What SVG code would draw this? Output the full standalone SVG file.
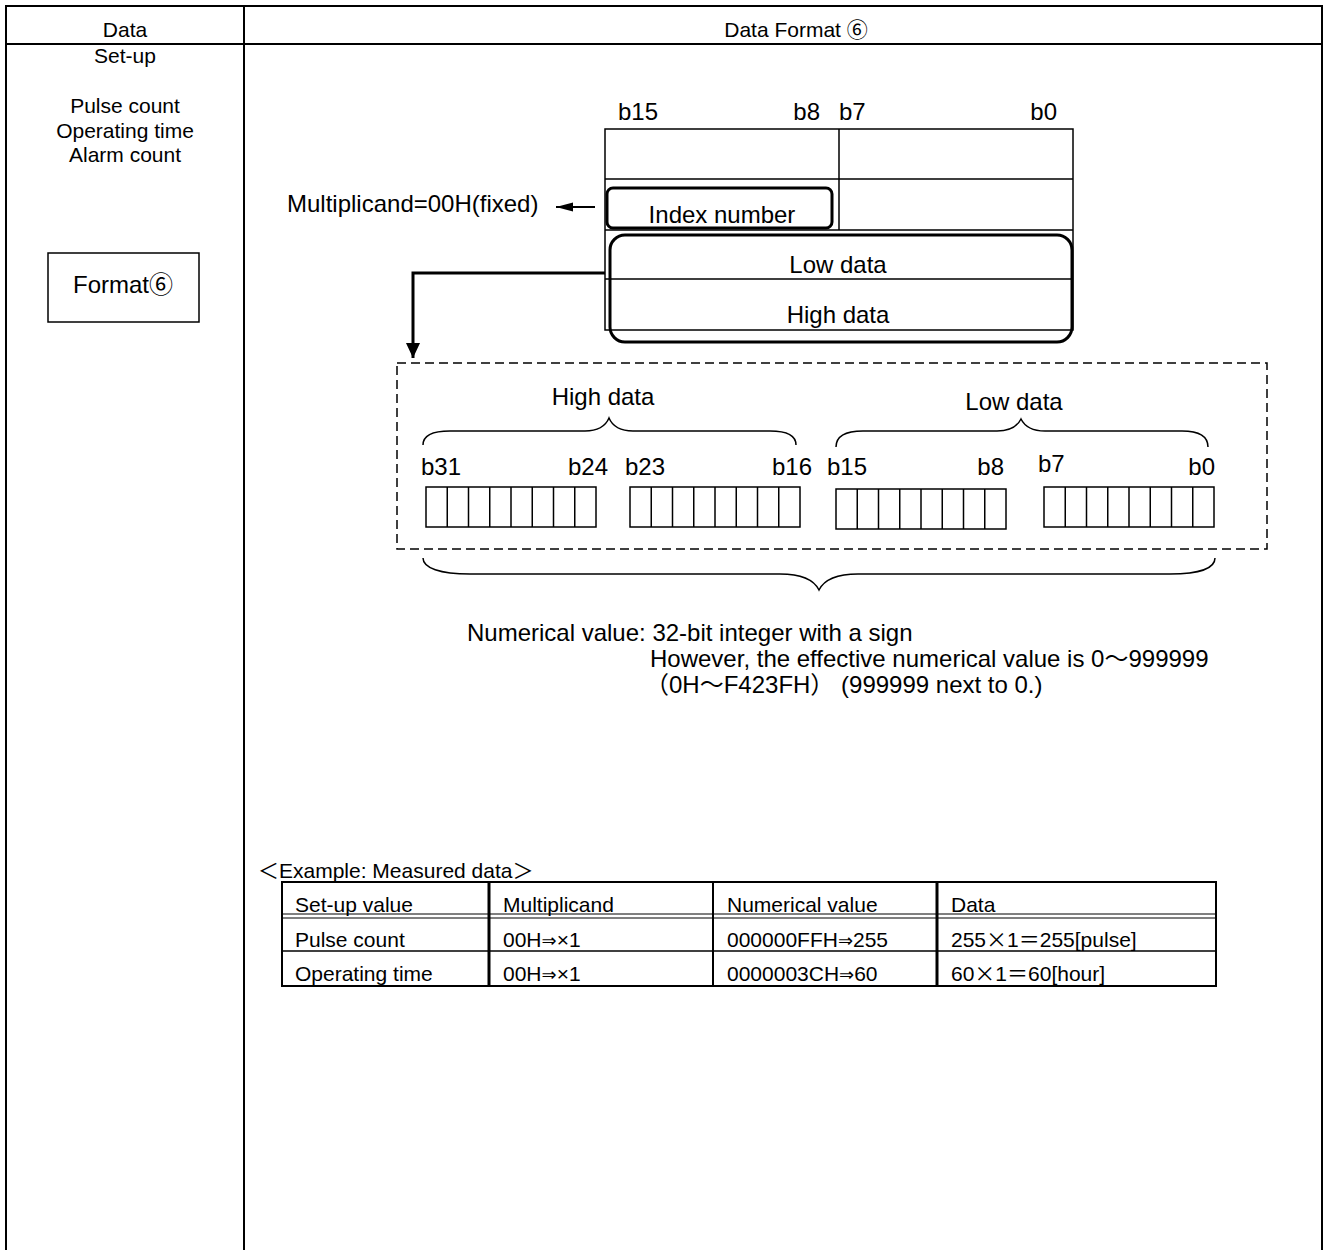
<svg xmlns="http://www.w3.org/2000/svg" width="1330" height="1250" viewBox="0 0 1330 1250">
<style>
text{font-family:'Liberation Sans',Arial,'Noto Sans CJK JP',sans-serif;fill:#000}
.f21{font-size:21px}
.f24{font-size:24px}
.c{text-anchor:middle}
.e{text-anchor:end}
.cjk{font-family:'Noto Sans CJK JP',sans-serif}
.dv{font-family:'DejaVu Sans',sans-serif;font-size:18px}
.frame{fill:none;stroke:#000;stroke-width:2}
.thin{fill:none;stroke:#000;stroke-width:1.5}
.bold{fill:none;stroke:#000;stroke-width:3}
.dash{fill:none;stroke:#000;stroke-width:1.5;stroke-dasharray:9 5}
.cell{fill:none;stroke:#000;stroke-width:1.5}
</style>
<defs>
<marker id="ahBig" markerUnits="userSpaceOnUse" markerWidth="16" markerHeight="14" refX="15" refY="7" orient="auto" viewBox="0 0 16 14">
<path d="M0,0 L15,7 L0,14 z" fill="#000"/>
</marker>
<marker id="ahSmall" markerUnits="userSpaceOnUse" markerWidth="18" markerHeight="10" refX="17" refY="5" orient="auto" viewBox="0 0 18 10">
<path d="M0,0.5 L17,5 L0,9.5 z" fill="#000"/>
</marker>
<g id="cells8">
<rect x="0" y="0" width="170" height="40" class="cell"/>
<path d="M21.25,0V40M42.5,0V40M63.75,0V40M85,0V40M106.25,0V40M127.5,0V40M148.75,0V40" class="cell"/>
</g>
</defs>

<g id="frame">
<path d="M6,1250V6H1322V1250" class="frame"/>
<path d="M6,44H1322" class="frame"/>
<path d="M244,6V1250" class="frame"/>
<text x="125" y="37" class="f21 c">Data</text>
<text x="796" y="37" class="f21 c">Data Format ⑥</text>
</g>

<g id="left-column">
<text x="125" y="63" class="f21 c">Set-up</text>
<text x="125" y="113" class="f21 c">Pulse count</text>
<text x="125" y="138" class="f21 c">Operating time</text>
<text x="125" y="162" class="f21 c">Alarm count</text>
</g>

<g id="format-box">
<rect x="48" y="253" width="151" height="69" class="thin"/>
<text x="123" y="293" class="f24 c">Format⑥</text>
</g>

<g id="register">
<text x="618" y="120" class="f24">b15</text>
<text x="820" y="120" class="f24 e">b8</text>
<text x="839" y="120" class="f24">b7</text>
<text x="1057" y="120" class="f24 e">b0</text>
<rect x="605" y="129" width="468" height="201" class="thin"/>
<path d="M839,129V230M605,179H1073M605,230H1073M605,279H1073" class="thin"/>
</g>

<g id="index-number">
<rect x="607" y="188" width="225" height="40" rx="6" class="bold"/>
<text x="722" y="223" class="f24 c">Index number</text>
</g>

<g id="data-words">
<rect x="610" y="235" width="462" height="107" rx="15" class="bold"/>
<text x="838" y="273" class="f24 c">Low data</text>
<text x="838" y="323" class="f24 c">High data</text>
</g>

<g id="multiplicand-label">
<text x="287" y="212" class="f24">Multiplicand=00H(fixed)</text>
</g>

<g id="connectors">
<path d="M595,207H556" fill="none" stroke="#000" stroke-width="2" marker-end="url(#ahSmall)"/>
<path d="M605,273H413V358" fill="none" stroke="#000" stroke-width="3" marker-end="url(#ahBig)"/>
</g>

<g id="bit-layout">
<rect x="397" y="363" width="870" height="186" class="dash"/>
<text x="603" y="405" class="f24 c">High data</text>
<text x="1014" y="410" class="f24 c">Low data</text>
<path d="M423,445 C423,435 433,431 450,431 L585,431 C600,431 606,425 609,418 C612,425 618,431 633,431 L770,431 C787,431 796,435 796,445" class="thin"/>
<path d="M836,447 C836,436 846,431 863,431 L997,431 C1012,431 1018,425 1021,419 C1024,425 1030,431 1045,431 L1182,431 C1199,431 1208,436 1208,447" class="thin"/>
<text x="421" y="475" class="f24">b31</text>
<text x="608" y="475" class="f24 e">b24</text>
<text x="625" y="475" class="f24">b23</text>
<text x="812" y="475" class="f24 e">b16</text>
<text x="827" y="475" class="f24">b15</text>
<text x="1004" y="475" class="f24 e">b8</text>
<text x="1038" y="472" class="f24">b7</text>
<text x="1215" y="475" class="f24 e">b0</text>
<use href="#cells8" x="426" y="487"/>
<use href="#cells8" x="630" y="487"/>
<use href="#cells8" x="836" y="489"/>
<use href="#cells8" x="1044" y="487"/>
<path d="M423,558 C423,568 440,574 470,574 L780,574 C805,574 815,582 819,590 C823,582 833,574 858,574 L1170,574 C1200,574 1215,568 1215,558" class="thin"/>
</g>

<g id="description">
<text x="467" y="641" class="f24">Numerical value: 32-bit integer with a sign</text>
<text x="650" y="667" class="f24">However, the effective numerical value is 0～999999</text>
<text x="645" y="693" class="f24">（0H～F423FH）  (999999 next to 0.)</text>
</g>

<g id="example-table">
<text x="258" y="878" class="f21">＜Example: Measured data＞</text>
<rect x="282" y="882" width="934" height="104" class="frame"/>
<path d="M282,914H1216M282,918H1216" fill="none" stroke="#000" stroke-width="1"/>
<path d="M282,951H1216" class="thin"/>
<path d="M489,882V986M937,882V986" fill="none" stroke="#000" stroke-width="3"/>
<path d="M713,882V986" fill="none" stroke="#000" stroke-width="2"/>
<text x="295" y="912" class="f21">Set-up value</text>
<text x="503" y="912" class="f21">Multiplicand</text>
<text x="727" y="912" class="f21">Numerical value</text>
<text x="951" y="912" class="f21">Data</text>
<text x="295" y="947" class="f21">Pulse count</text>
<text x="503" y="947" class="f21">00H<tspan class="dv">⇒</tspan>×1</text>
<text x="727" y="947" class="f21">000000FFH<tspan class="dv">⇒</tspan>255</text>
<text x="951" y="947" class="f21">255<tspan class="cjk">×</tspan>1<tspan class="cjk">＝</tspan>255[pulse]</text>
<text x="295" y="981" class="f21">Operating time</text>
<text x="503" y="981" class="f21">00H<tspan class="dv">⇒</tspan>×1</text>
<text x="727" y="981" class="f21">0000003CH<tspan class="dv">⇒</tspan>60</text>
<text x="951" y="981" class="f21">60<tspan class="cjk">×</tspan>1<tspan class="cjk">＝</tspan>60[hour]</text>
</g>
</svg>
